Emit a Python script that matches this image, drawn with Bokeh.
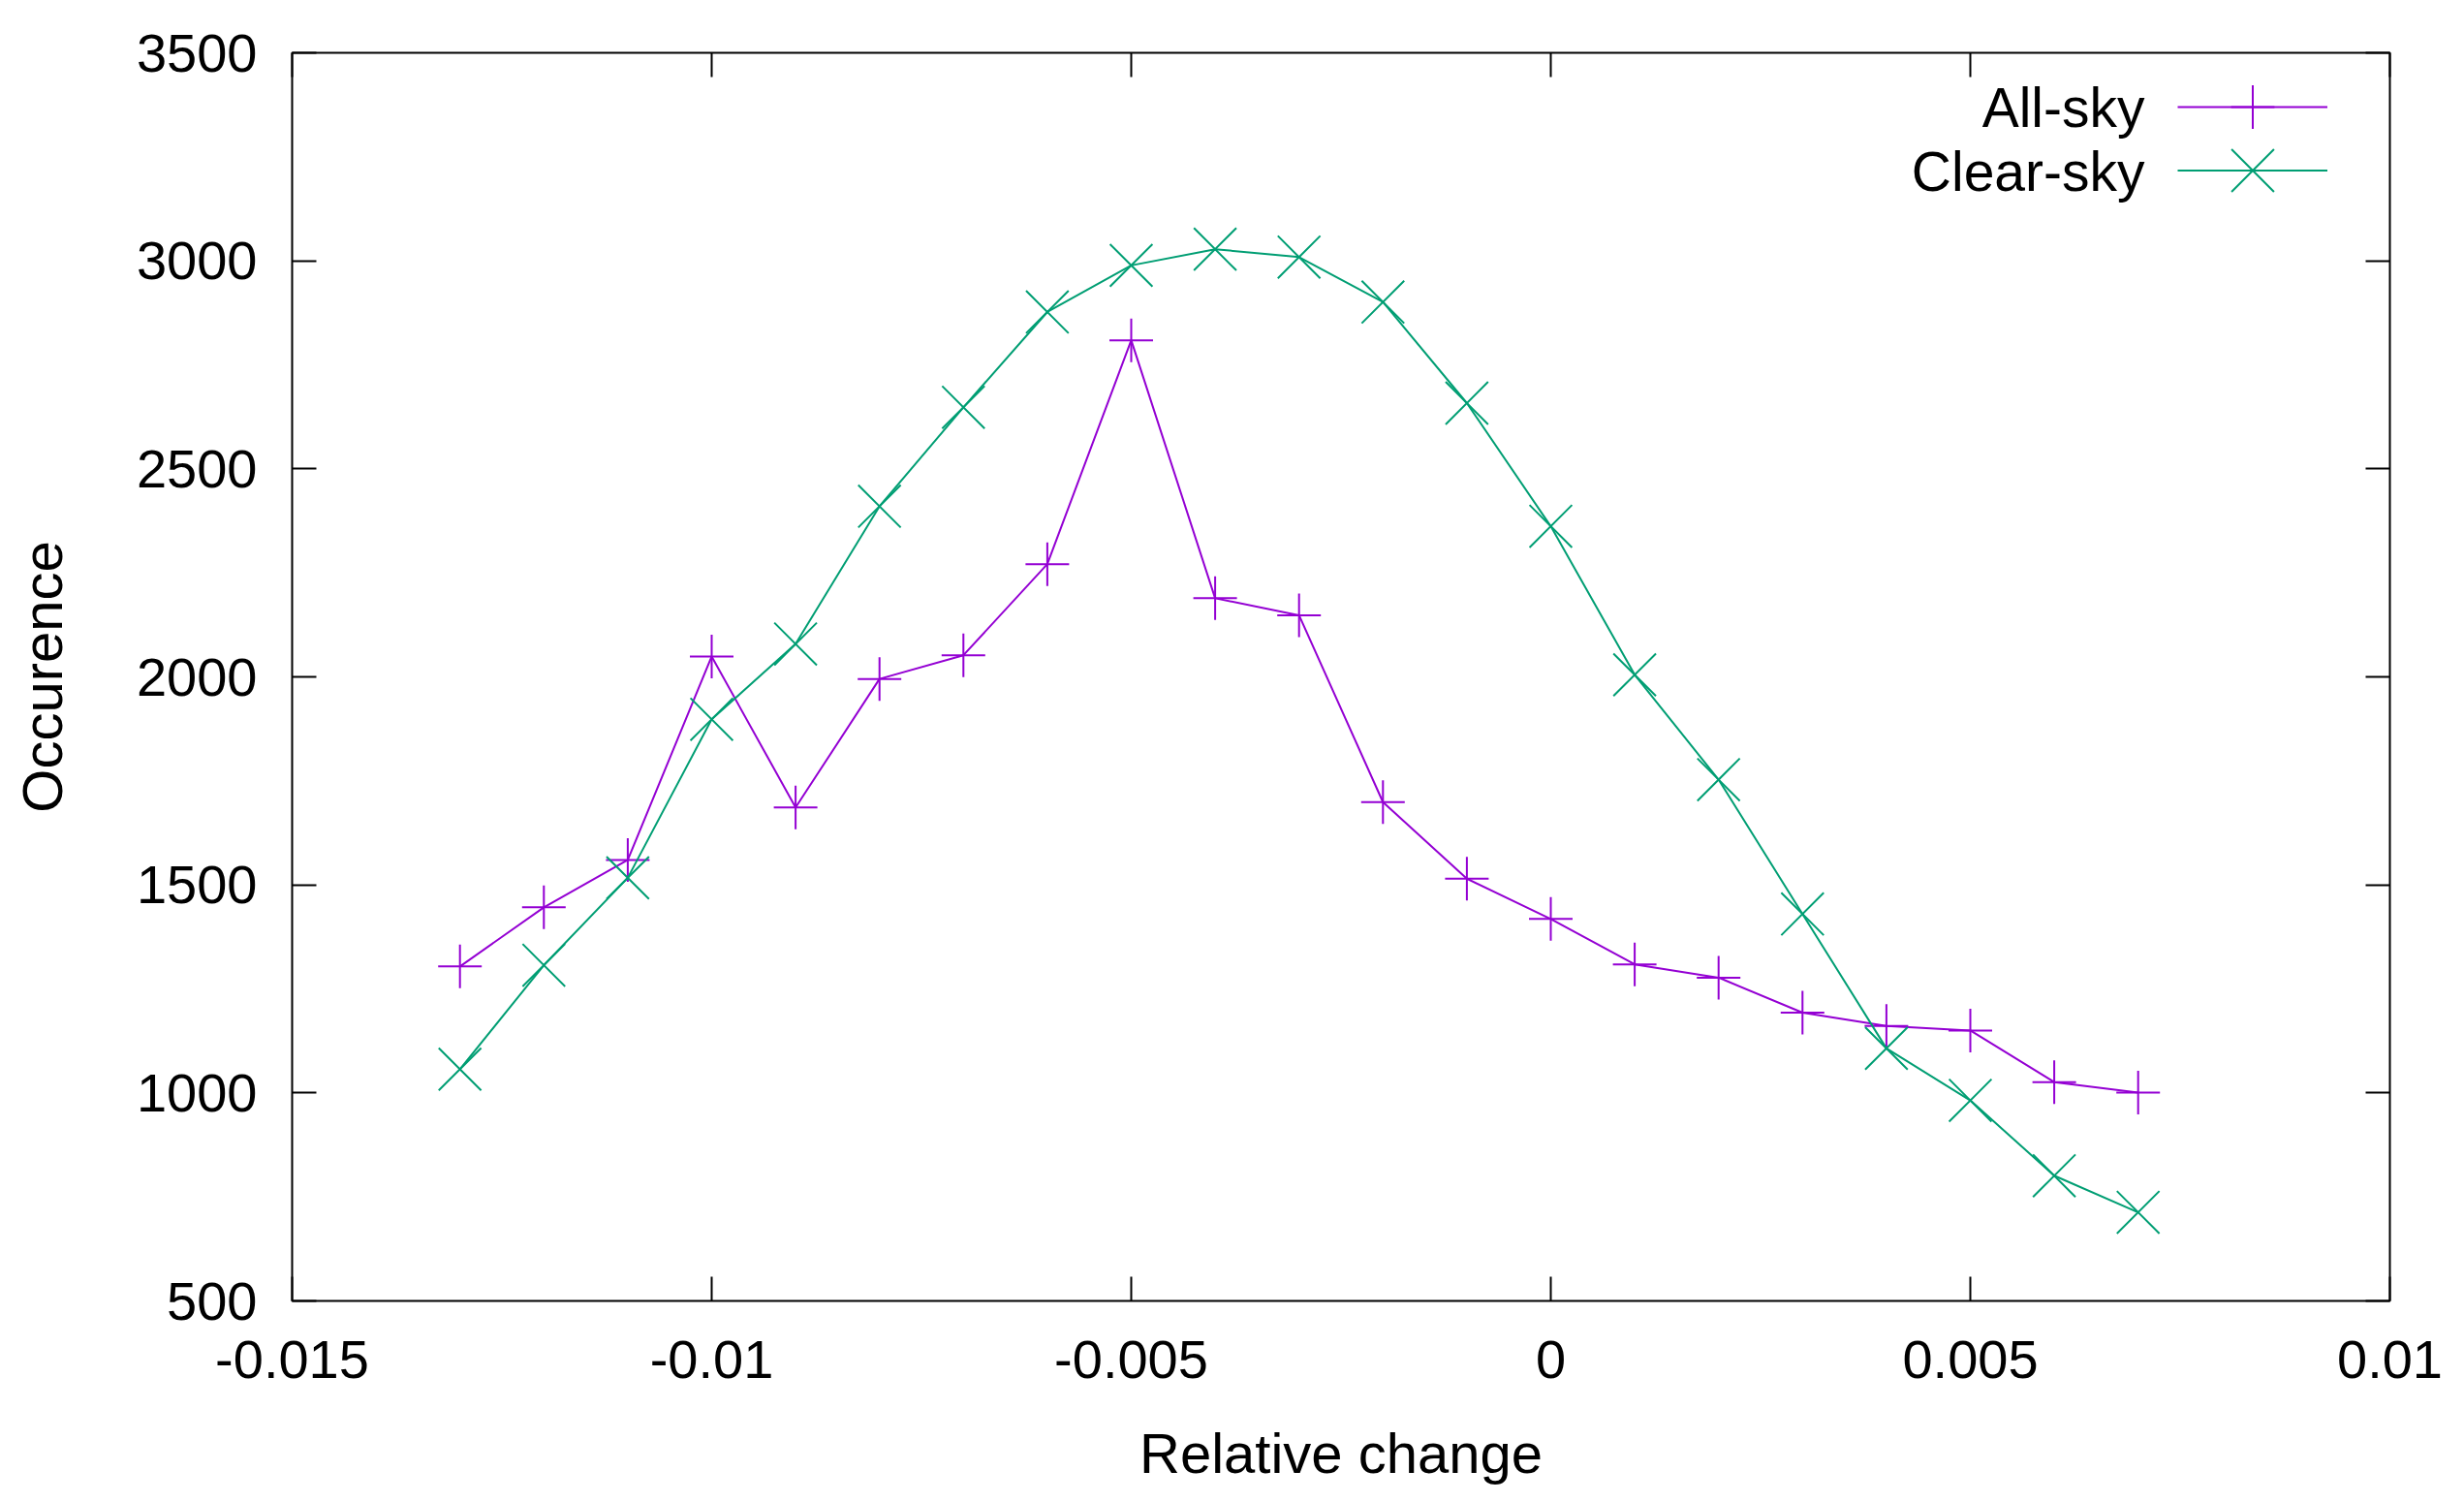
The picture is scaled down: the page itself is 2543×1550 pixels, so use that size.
from bokeh.plotting import figure
from bokeh.models import (ColumnDataSource, FixedTicker, LinearAxis, Range1d,
                          Legend, LegendItem, Label)
from bokeh.embed import file_html
from bokeh.resources import INLINE

# ---- data ----
rel_change = [-0.013, -0.012, -0.011, -0.010, -0.009, -0.008, -0.007,
              -0.006, -0.005, -0.004, -0.003, -0.002, -0.001, 0.000,
              0.001, 0.002, 0.003, 0.004, 0.005, 0.006, 0.007]
all_sky = [1304, 1446, 1560, 2049, 1686, 1995, 2052, 2271, 2809, 2189, 2148,
           1699, 1515, 1418, 1309, 1277, 1193, 1161, 1150, 1026, 1001]
clear_sky = [1057, 1307, 1517, 1898, 2079, 2410, 2648, 2877, 2989, 3028, 3009,
             2901, 2658, 2362, 2005, 1753, 1430, 1107, 982, 801, 713]
series_names = ["All-sky", "Clear-sky"]
x_ticks = [-0.015, -0.010, -0.005, 0.0, 0.005, 0.010]
x_tick_labels = ["-0.015", "-0.01", "-0.005", "0", "0.005", "0.01"]
y_ticks = [500, 1000, 1500, 2000, 2500, 3000, 3500]
y_tick_labels = ["500", "1000", "1500", "2000", "2500", "3000", "3500"]
x_label = "Relative change"
y_label = "Occurence"

FONT = "Liberation Sans"
PURPLE = "#9400D3"
GREEN = "#009E73"

p = figure(width=2527, height=1534, output_backend="svg", toolbar_location=None,
           x_range=Range1d(-0.015, 0.01), y_range=Range1d(500, 3500),
           min_border_left=301, min_border_right=61, min_border_top=54,
           min_border_bottom=191)
p.grid.visible = False
p.outline_line_color = "black"
p.outline_line_width = 2

src = ColumnDataSource(dict(x=rel_change, a=all_sky, c=clear_sky))

l1 = p.line("x", "a", source=src, line_color=PURPLE, line_width=2)
s1 = p.scatter("x", "a", source=src, marker="cross", size=45,
               line_color=PURPLE, line_width=2)
l2 = p.line("x", "c", source=src, line_color=GREEN, line_width=2)
s2 = p.scatter("x", "c", source=src, marker="x", size=62,
               line_color=GREEN, line_width=2)

def style_axis(ax):
    ax.axis_line_color = None
    ax.major_tick_in = 25
    ax.major_tick_out = 0
    ax.major_tick_line_width = 2
    ax.minor_tick_line_color = None
    ax.major_label_text_font = FONT
    ax.major_label_text_font_size = "56px"
    ax.major_label_text_color = "black"
    ax.axis_label_text_font = FONT
    ax.axis_label_text_font_size = "58px"
    ax.axis_label_text_font_style = "normal"
    ax.axis_label_text_color = "black"

xa = p.xaxis[0]
xa.ticker = FixedTicker(ticks=x_ticks)
xa.major_label_overrides = {t: s for t, s in zip(x_ticks, x_tick_labels)}
style_axis(xa)
xa.major_label_standoff = 41
xa.axis_label = x_label
xa.axis_label_standoff = 42

ya = p.yaxis[0]
ya.ticker = FixedTicker(ticks=y_ticks)
ya.major_label_overrides = {t: s for t, s in zip(y_ticks, y_tick_labels)}
style_axis(ya)
ya.major_label_standoff = 36
ya.axis_label = y_label
ya.axis_label_standoff = 62

# mirrored ticks on top and right (gnuplot style)
xt = LinearAxis(ticker=FixedTicker(ticks=x_ticks))
style_axis(xt)
xt.major_label_text_color = None
p.add_layout(xt, "above")
yr = LinearAxis(ticker=FixedTicker(ticks=y_ticks))
style_axis(yr)
yr.major_label_text_color = None
p.add_layout(yr, "right")

# legend keys (gnuplot style: text on the left, drawn as labels)
for rends, loc, gh in zip([[l1, s1], [l2, s2]], [(1946, 1176), (1946, 1089)],
                          [112, 155]):
    leg = Legend(items=[LegendItem(label="", renderers=rends)],
                 location=loc, glyph_width=155, glyph_height=gh,
                 padding=0, margin=0, label_width=0, label_standoff=0,
                 border_line_color=None, background_fill_alpha=0)
    p.add_layout(leg)

for name, yy in zip(series_names, [1232, 1166]):
    p.add_layout(Label(x=1912, y=yy, x_units="screen", y_units="screen",
                       text=name, text_align="right", text_baseline="middle",
                       text_font=FONT, text_font_size="57px",
                       text_color="black"))

open("out.html", "w").write(file_html(p, INLINE))
